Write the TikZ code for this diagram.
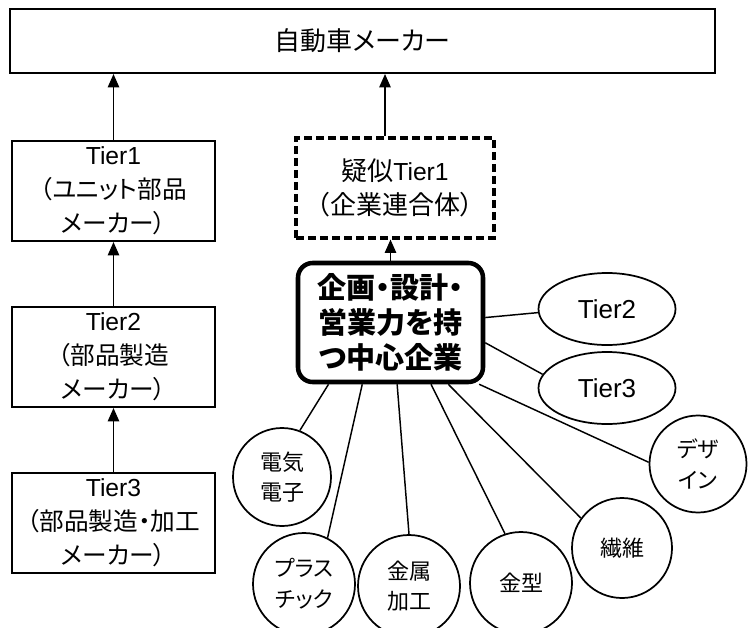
\documentclass[tikz,border=0pt]{standalone}
\usepackage{fontspec}
\setmainfont{Noto Sans CJK JP}[RawFeature=+palt]
\newfontfamily\lat{Liberation Sans}
\usetikzlibrary{arrows.meta,calc,shapes.geometric}
\tikzset{
  box/.style={draw, line width=1.5pt, minimum width=152.25pt, minimum height=75pt, inner sep=0pt, align=center, font=\fontsize{18.5}{25.5}\selectfont},
  arr/.style={line width=1.2pt, -{Triangle[length=10pt,width=8.5pt]}},
  link/.style={line width=1.1pt},
  bubble/.style={draw, circle, line width=1.3pt, inner sep=0pt, align=center, font=\fontsize{16.5}{23}\selectfont},
  oval/.style={draw, ellipse, line width=1.3pt, minimum width=102.75pt, minimum height=54pt, inner sep=0pt, font=\lat\fontsize{19.5}{22}\selectfont},
  core/.style={draw, line width=3.4pt, rounded corners=11pt, minimum width=138.75pt, minimum height=89.25pt, inner sep=0pt, align=center, font=\bfseries\fontsize{21.8}{26.5}\selectfont},
}
\newcommand{\tierlat}[1]{{\lat\fontsize{18.5}{25.5}\selectfont #1}}
\begin{document}
\begin{tikzpicture}[x=0.75pt,y=-0.75pt]
\useasboundingbox (0,0) rectangle (748,627);
% boxes
\node[box, minimum width=528.75pt, minimum height=48pt, font=\fontsize{19.5}{22}\selectfont] (top) at (362.5,41) {自動車メーカー};
\node[box] (t1) at (113.5,191) {\tierlat{Tier1}\\（ユニット部品\\メーカー）};
\node[box] (t2) at (113.5,357) {\tierlat{Tier2}\\（部品製造\\メーカー）};
\node[box] (t3) at (113.5,523) {\tierlat{Tier3}\\（部品製造・加工\\メーカー）};
\node[box, line width=2.3pt, dash pattern=on 6pt off 3pt, minimum width=148.5pt, font=\fontsize{19.5}{25}\selectfont] (ps) at (395,188) {疑似\tierlat{Tier1}\\（企業連合体）};
\node[core] (c) at (390.5,322.5) {企画・設計・\\営業力を持\\つ中心企業};
% satellites
\node[oval] (o2) at (607,309) {Tier2};
\node[oval] (o3) at (607,388) {Tier3};
\node[bubble, minimum size=73.5pt] (b1) at (282,477) {電気\\電子};
\node[bubble, minimum size=76.5pt] (b2) at (304,584) {プラス\\チック};
\node[bubble, minimum size=76.5pt] (b3) at (409,586) {金属\\加工};
\node[bubble, minimum size=76.5pt] (b4) at (521,583) {金型};
\node[bubble, minimum size=75pt] (b5) at (622,548) {繊維};
\node[bubble, minimum size=72.75pt] (b6) at (698,464) {デザ\\イン};
% arrows
\coordinate (pa) at ($(ps.north)+(-10,0)$);
\draw[arr] (t1.north) -- (t1.north |- top.south);
\draw[arr] (pa) -- (pa |- top.south);
\draw[arr] (t2.north) -- (t2.north |- t1.south);
\draw[arr] (t3.north) -- (t3.north |- t2.south);
\draw[arr] (c.north) -- (c.north |- ps.south);
% links
\draw[link] ($(c.north east)!0.46!(c.south east)$) -- (o2.183);
\draw[link] ($(c.north east)!0.664!(c.south east)$) -- (o3.168);
\draw[link] ($(c.south west)!0.173!(c.south east)$) -- (b1.69);
\draw[link] ($(c.south west)!0.351!(c.south east)$) -- (b2.63);
\draw[link] ($(c.south west)!0.535!(c.south east)$) -- (b3.90);
\draw[link] ($(c.south west)!0.714!(c.south east)$) -- (b4.108);
\draw[link] ($(c.south west)!0.805!(c.south east)$) -- (b5.144);
\draw[link] ($(c.south west)!0.968!(c.south east)$) -- (b6.178);
\end{tikzpicture}
\end{document}
